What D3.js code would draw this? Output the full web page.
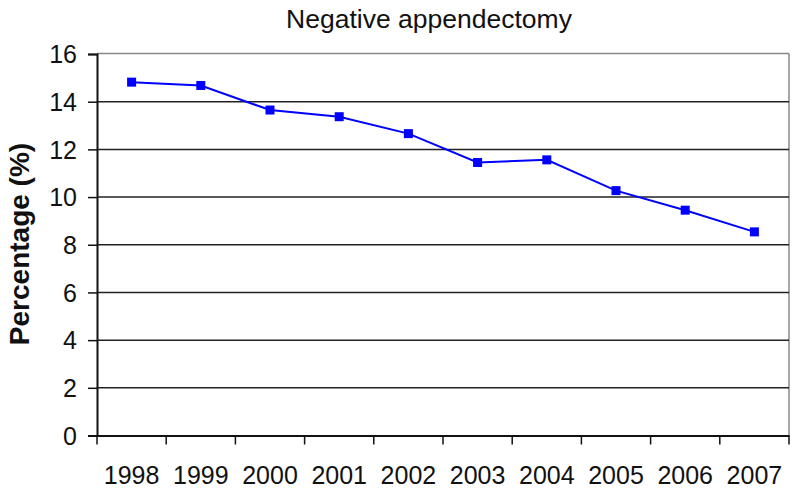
<!DOCTYPE html>
<html><head><meta charset="utf-8">
<script src="https://cdn.jsdelivr.net/npm/d3@7"></script>
<style>body{margin:0;background:#fff}svg{display:block}text{font-family:Arial,"Liberation Sans",sans-serif}</style>
</head><body><svg id="c" width="800" height="493"></svg>
<script>
const years = ["1998","1999","2000","2001","2002","2003","2004","2005","2006","2007"];
const values = [14.82,14.68,13.65,13.37,12.66,11.45,11.56,10.27,9.45,8.54];
const yTicks = [0,2,4,6,8,10,12,14,16];
const title = "Negative appendectomy";
const yLabel = "Percentage (%)";

const svg = d3.select("#c");
const L = 97, R = 789, T = 54, B = 435.5;
const x = d3.scaleBand().domain(years).range([L, R]);
const y = d3.scaleLinear().domain([0,16]).range([B, T]);

svg.append("line").attr("x1",L).attr("x2",R).attr("y1",T-0.5).attr("y2",T-0.5).attr("stroke","#888").attr("stroke-width",1.5);
svg.append("line").attr("x1",R).attr("x2",R).attr("y1",T-0.5).attr("y2",B).attr("stroke","#888").attr("stroke-width",1.5);

svg.append("g").selectAll("line").data(yTicks.filter(d=>d>0 && d<16)).join("line")
  .attr("x1",L).attr("x2",R).attr("y1",d=>y(d)).attr("y2",d=>y(d))
  .attr("stroke","#222").attr("stroke-width",1.5);

const ya = svg.append("g").attr("transform",`translate(${L},0)`)
  .call(d3.axisLeft(y).tickValues(yTicks).tickSize(9).tickPadding(11).tickFormat(d3.format("d")));
ya.select(".domain").attr("stroke","#111").attr("stroke-width",2);
ya.selectAll(".tick line").attr("stroke","#111").attr("stroke-width",1.5);
ya.selectAll("text").attr("font-size",25).attr("fill","#111").attr("dy","0.35em");

const xa = svg.append("g").attr("transform",`translate(0,${B})`)
  .call(d3.axisBottom(x).tickSize(0).tickPadding(31));
xa.select(".domain").attr("stroke","#111").attr("stroke-width",2);
xa.selectAll("text").attr("font-size",25).attr("fill","#111");
const bounds = years.map(d=>x(d)).concat([R]);
xa.append("g").selectAll("line").data(bounds).join("line")
  .attr("x1",d=>d).attr("x2",d=>d).attr("y1",0).attr("y2",9)
  .attr("stroke","#111").attr("stroke-width",1.5);

const cx = d => x(d) + x.bandwidth()/2;
svg.append("path").datum(values.map((v,i)=>[years[i],v]))
  .attr("fill","none").attr("stroke","#0000ff").attr("stroke-width",2)
  .attr("d", d3.line().x(d=>cx(d[0])).y(d=>y(d[1])));
svg.append("g").selectAll("rect").data(values.map((v,i)=>[years[i],v])).join("rect")
  .attr("x",d=>cx(d[0])-4.5).attr("y",d=>y(d[1])-4.5).attr("width",9).attr("height",9)
  .attr("fill","#0000ff");

svg.append("text").attr("x",429).attr("y",28).attr("text-anchor","middle")
  .attr("font-size",26.5).attr("fill","#111").text(title);
svg.append("text").attr("transform","translate(29,244) rotate(-90)").attr("text-anchor","middle")
  .attr("font-size",28).attr("font-weight","bold").attr("fill","#111").text(yLabel);
</script></body></html>
